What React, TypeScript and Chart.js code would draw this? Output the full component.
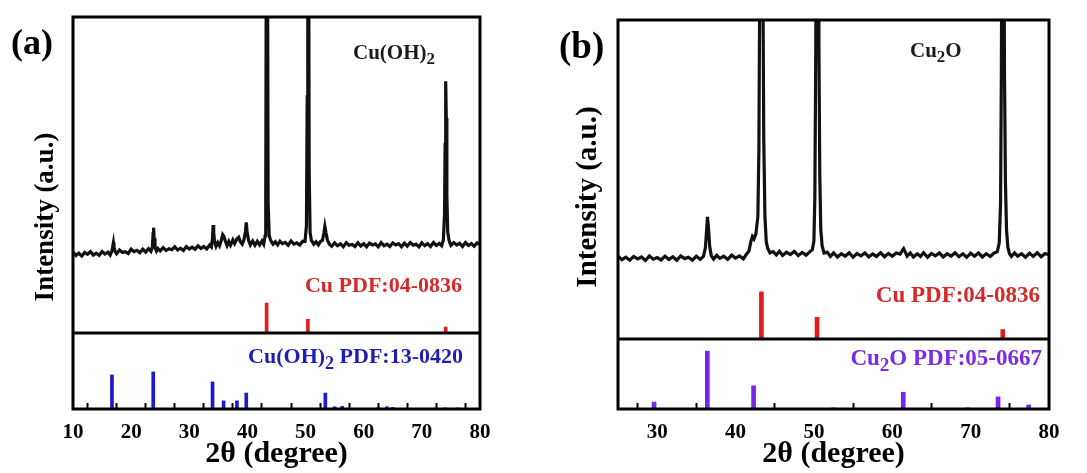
import React, { useEffect, useRef } from "react";
import { Chart, registerables } from "chart.js";

Chart.register(...registerables);

const FONT = '"Liberation Serif", "Times New Roman", serif';

// ---------- DATA ----------
// Panel (a): measured XRD pattern of the Cu(OH)2 sample  [2θ, intensity counts]
const xrdA: [number, number][] = [
  [10.0, 116], [10.5, 103], [11.0, 112], [11.5, 101], [12.0, 115], [12.5, 108], [13.0, 118], [13.5, 105],
  [14.0, 112], [14.5, 104], [15.0, 118], [15.5, 109], [16.0, 116], [16.4, 105], [16.7, 121], [16.85, 140],
  [16.95, 152], [17.05, 134], [17.25, 118], [17.5, 110], [18.0, 124], [18.5, 115], [19.0, 118], [19.5, 111],
  [20.0, 127], [20.5, 118], [21.0, 123], [21.5, 114], [22.0, 127], [22.5, 116], [23.0, 129], [23.4, 119],
  [23.65, 134], [23.78, 186], [23.86, 208], [23.95, 168], [24.1, 134], [24.35, 120], [24.6, 130], [25.0, 121],
  [25.5, 133], [26.0, 122], [26.5, 129], [27.0, 125], [27.5, 136], [28.0, 124], [28.5, 131], [29.0, 122],
  [29.5, 137], [30.0, 128], [30.5, 135], [31.0, 127], [31.5, 140], [32.0, 130], [32.5, 137], [33.0, 128],
  [33.5, 143], [33.8, 136], [34.0, 170], [34.1, 218], [34.2, 190], [34.35, 155], [34.6, 138], [34.9, 152],
  [35.2, 140], [35.5, 160], [35.75, 182], [35.95, 176], [36.2, 158], [36.5, 141], [36.8, 156], [37.1, 142],
  [37.5, 162], [37.8, 148], [38.2, 166], [38.5, 172], [38.8, 154], [39.1, 146], [39.4, 162], [39.65, 192],
  [39.8, 228], [39.95, 192], [40.2, 160], [40.5, 143], [40.9, 158], [41.3, 142], [41.7, 157], [42.1, 143],
  [42.5, 158], [42.8, 146], [43.05, 178], [43.15, 320], [43.25, 1300], [43.35, 1900], [43.45, 1300], [43.56, 300],
  [43.75, 178], [44.0, 160], [44.4, 146], [44.8, 155], [45.2, 143], [45.6, 157], [46.0, 148], [46.5, 153],
  [47.0, 142], [47.5, 158], [48.0, 146], [48.5, 151], [49.0, 143], [49.5, 157], [49.9, 156], [50.15, 215],
  [50.28, 700], [50.38, 1800], [50.5, 1600], [50.62, 420], [50.78, 190], [51.0, 160], [51.4, 146], [51.8, 155],
  [52.2, 143], [52.6, 157], [52.9, 160], [53.15, 188], [53.32, 213], [53.5, 190], [53.75, 162], [54.1, 146],
  [54.5, 138], [55.0, 151], [55.5, 140], [56.0, 147], [56.5, 136], [57.0, 152], [57.5, 142], [58.0, 145],
  [58.5, 137], [59.0, 151], [59.5, 139], [60.0, 148], [60.5, 136], [61.0, 150], [61.5, 143], [62.0, 147],
  [62.5, 136], [63.0, 152], [63.5, 140], [64.0, 146], [64.5, 137], [65.0, 151], [65.5, 143], [66.0, 148],
  [66.5, 136], [67.0, 150], [67.5, 139], [68.0, 152], [68.5, 142], [69.0, 146], [69.5, 136], [70.0, 151],
  [70.5, 140], [71.0, 148], [71.5, 137], [72.0, 152], [72.5, 141], [73.0, 149], [73.4, 140], [73.7, 162],
  [73.9, 260], [74.0, 520], [74.1, 758], [74.2, 620], [74.3, 330], [74.45, 190], [74.7, 158], [75.0, 141],
  [75.5, 152], [76.0, 143], [76.5, 149], [77.0, 137], [77.5, 152], [78.0, 141], [78.5, 148], [79.0, 138],
  [79.5, 151], [80.0, 144],
];

// Panel (b): measured XRD pattern of the Cu2O sample  [2θ, intensity counts]
const xrdB: [number, number][] = [
  [25.0, 122], [25.5, 109], [26.0, 118], [26.5, 107], [27.0, 121], [27.5, 112], [28.0, 119], [28.5, 106],
  [29.0, 123], [29.5, 111], [30.0, 117], [30.5, 108], [31.0, 122], [31.5, 110], [32.0, 120], [32.5, 107],
  [33.0, 123], [33.5, 113], [34.0, 118], [34.5, 107], [35.0, 122], [35.5, 110], [35.9, 121], [36.15, 152],
  [36.3, 215], [36.42, 268], [36.55, 225], [36.7, 158], [36.9, 124], [37.2, 111], [37.6, 125], [38.0, 114],
  [38.5, 122], [39.0, 110], [39.5, 126], [40.0, 115], [40.5, 123], [41.0, 112], [41.4, 130], [41.7, 140],
  [41.95, 175], [42.15, 195], [42.35, 186], [42.6, 205], [42.85, 270], [42.98, 520], [43.08, 1100], [43.18, 1900],
  [43.4, 1900], [43.5, 1100], [43.6, 560], [43.75, 270], [43.92, 175], [44.1, 152], [44.4, 134], [44.8, 139],
  [45.2, 127], [45.6, 140], [46.0, 125], [46.5, 137], [47.0, 128], [47.5, 140], [48.0, 124], [48.5, 136],
  [49.0, 126], [49.5, 139], [49.8, 146], [50.0, 178], [50.12, 340], [50.24, 900], [50.34, 1700], [50.54, 1700],
  [50.64, 900], [50.75, 420], [50.88, 220], [51.05, 160], [51.3, 134], [51.7, 137], [52.1, 121], [52.5, 134],
  [53.0, 119], [53.5, 131], [54.0, 122], [54.5, 135], [55.0, 118], [55.5, 132], [56.0, 123], [56.5, 134],
  [57.0, 119], [57.5, 130], [58.0, 121], [58.5, 135], [59.0, 120], [59.5, 132], [60.0, 122], [60.5, 134],
  [61.0, 130], [61.25, 142], [61.45, 150], [61.65, 138], [61.9, 122], [62.3, 134], [62.7, 119], [63.2, 131],
  [63.6, 121], [64.0, 135], [64.5, 118], [65.0, 132], [65.5, 123], [66.0, 134], [66.5, 119], [67.0, 131],
  [67.5, 122], [68.0, 135], [68.5, 120], [69.0, 131], [69.5, 118], [70.0, 133], [70.5, 122], [71.0, 134],
  [71.5, 119], [72.0, 131], [72.5, 121], [73.0, 134], [73.4, 138], [73.65, 172], [73.82, 320], [73.92, 800],
  [74.02, 1600], [74.22, 1600], [74.32, 800], [74.44, 400], [74.58, 220], [74.75, 155], [74.95, 132], [75.2, 121],
  [75.6, 134], [76.0, 122], [76.5, 131], [77.0, 118], [77.5, 133], [78.0, 121], [78.5, 135], [79.0, 120],
  [79.5, 132], [80.0, 127],
];

// Reference patterns (stick positions and relative intensities)
const cuPdfAngles = [43.3, 50.4, 74.1];
const cuPdfIntensity = [100, 46, 20];

const cuOH2PdfAngles = [16.7, 23.8, 34.0, 35.9, 38.2, 39.8, 53.4, 55.0, 56.3, 62.5, 64.0, 65.0, 72.5, 74.0, 76.2];
const cuOH2PdfIntensity = [92, 100, 73, 22, 22, 43, 43, 6, 7, 4, 6, 4, 2, 3, 3];

const cu2oPdfAngles = [29.6, 36.4, 42.3, 52.5, 61.4, 69.6, 73.5, 77.4];
const cu2oPdfIntensity = [12, 100, 40, 2, 29, 2, 21, 7];

// Axis labels
const xTitle = "2θ (degree)";
const yTitle = "Intensity (a.u.)";

// ---------- HELPERS ----------
type Part = { t: string; sub?: boolean };

function drawRich(
  ctx: CanvasRenderingContext2D,
  parts: Part[],
  x: number,
  y: number,
  size: number,
  color: string,
  align: "left" | "right"
) {
  const f = (s: number) => `bold ${s}px ${FONT}`;
  const widths: number[] = [];
  let total = 0;
  for (const p of parts) {
    ctx.font = f(p.sub ? Math.round(size * 0.82) : size);
    const w = ctx.measureText(p.t).width;
    widths.push(w);
    total += w;
  }
  let cx = align === "right" ? x - total : x;
  ctx.fillStyle = color;
  ctx.textAlign = "left";
  ctx.textBaseline = "alphabetic";
  parts.forEach((p, i) => {
    ctx.font = f(p.sub ? Math.round(size * 0.82) : size);
    ctx.fillText(p.t, cx, p.sub ? y + size * 0.25 : y);
    cx += widths[i];
  });
}

type TextItem = { parts: Part[]; x: number; y: number; size: number; color: string; align: "left" | "right" };

type PanelCfg = {
  left: number;
  width: number;
  padding: { left: number; right: number; top: number; bottom: number };
  xMin: number;
  xMax: number;
  xStep: number;
  xrd: [number, number][];
  cuMax: number;
  pdfAngles: number[];
  pdfIntensity: number[];
  pdfMax: number;
  pdfColor: string;
  barW: number;
  weights: [number, number, number];
  yTitlePos: { x: number; y: number; size: number };
  texts: TextItem[];
};

const RED = "#e01e1e";
const RED_TXT = "#d42a2a";

const panelA: PanelCfg = {
  left: 0,
  width: 545,
  padding: { left: 73, right: 65, top: 17, bottom: 4 },
  xMin: 10,
  xMax: 80,
  xStep: 5,
  xrd: xrdA,
  cuMax: 167,
  pdfAngles: cuOH2PdfAngles,
  pdfIntensity: cuOH2PdfIntensity,
  pdfMax: 205,
  pdfColor: "#1a1ad0",
  barW: 3,
  weights: [266, 50, 76],
  yTitlePos: { x: 46, y: 217, size: 27 },
  texts: [
    { parts: [{ t: "(a)" }], x: 11, y: 54, size: 36, color: "#000", align: "left" },
    { parts: [{ t: "Cu(OH)" }, { t: "2", sub: true }], x: 353, y: 59, size: 21, color: "#1a1a1a", align: "left" },
    { parts: [{ t: "Cu PDF:04-0836" }], x: 462, y: 292, size: 22, color: RED_TXT, align: "right" },
    {
      parts: [{ t: "Cu(OH)" }, { t: "2", sub: true }, { t: " PDF:13-0420" }],
      x: 463, y: 363, size: 22, color: "#1e1eb4", align: "right",
    },
  ],
};

const panelB: PanelCfg = {
  left: 545,
  width: 542,
  padding: { left: 73, right: 38, top: 20, bottom: 4 },
  xMin: 25,
  xMax: 80,
  xStep: 10,
  xrd: xrdB,
  cuMax: 106,
  pdfAngles: cu2oPdfAngles,
  pdfIntensity: cu2oPdfIntensity,
  pdfMax: 121,
  pdfColor: "#7a22ee",
  barW: 4,
  weights: [269, 50, 70],
  yTitlePos: { x: 44, y: 197, size: 29 },
  texts: [
    { parts: [{ t: "(b)" }], x: 14, y: 58, size: 37, color: "#000", align: "left" },
    { parts: [{ t: "Cu" }, { t: "2", sub: true }, { t: "O" }], x: 365, y: 57, size: 21, color: "#1a1a1a", align: "left" },
    { parts: [{ t: "Cu PDF:04-0836" }], x: 495, y: 302, size: 23, color: RED_TXT, align: "right" },
    {
      parts: [{ t: "Cu" }, { t: "2", sub: true }, { t: "O PDF:05-0667" }],
      x: 497, y: 365, size: 23, color: "#7b2ae6", align: "right",
    },
  ],
};

function Panel({ cfg }: { cfg: PanelCfg }) {
  const ref = useRef<HTMLCanvasElement>(null);

  useEffect(() => {
    const canvas = ref.current;
    if (!canvas) return;

    const decor = {
      id: "decor",
      afterDatasetsDraw(chart: any) {
        const { ctx, chartArea: a, scales } = chart;
        ctx.save();
        ctx.strokeStyle = "#000";
        ctx.lineWidth = 3;
        ctx.strokeRect(a.left, a.top, a.right - a.left, a.bottom - a.top);
        const ySep = scales.yP.top;
        ctx.beginPath();
        ctx.moveTo(a.left, ySep);
        ctx.lineTo(a.right, ySep);
        ctx.stroke();
        ctx.restore();

        ctx.save();
        for (const t of cfg.texts) drawRich(ctx, t.parts, t.x, t.y, t.size, t.color, t.align);
        ctx.restore();

        ctx.save();
        ctx.translate(cfg.yTitlePos.x, cfg.yTitlePos.y);
        ctx.rotate(-Math.PI / 2);
        ctx.font = `bold ${cfg.yTitlePos.size}px ${FONT}`;
        ctx.fillStyle = "#000";
        ctx.textAlign = "center";
        ctx.textBaseline = "middle";
        ctx.fillText(yTitle, 0, 0);
        ctx.restore();
      },
    };

    const chart = new Chart(canvas, {
      type: "line",
      data: {
        datasets: [
          {
            type: "line",
            label: "XRD",
            data: cfg.xrd.map(([x, y]) => ({ x, y })),
            xAxisID: "x",
            yAxisID: "yX",
            borderColor: "#111",
            borderWidth: 3.2,
            pointRadius: 0,
            tension: 0,
            fill: false,
          } as any,
          {
            type: "bar",
            label: "Cu PDF",
            data: cuPdfAngles.map((x, i) => ({ x, y: cuPdfIntensity[i] })),
            xAxisID: "x",
            yAxisID: "yC",
            backgroundColor: RED,
            barThickness: cfg.barW,
            grouped: false,
          } as any,
          {
            type: "bar",
            label: "PDF",
            data: cfg.pdfAngles.map((x, i) => ({ x, y: cfg.pdfIntensity[i] })),
            xAxisID: "x",
            yAxisID: "yP",
            backgroundColor: cfg.pdfColor,
            barThickness: cfg.barW,
            grouped: false,
          } as any,
        ],
      },
      options: {
        responsive: false,
        maintainAspectRatio: false,
        animation: false,
        devicePixelRatio: 1,
        layout: { padding: cfg.padding },
        plugins: { legend: { display: false }, tooltip: { enabled: false } },
        scales: {
          x: {
            type: "linear",
            position: "bottom",
            min: cfg.xMin,
            max: cfg.xMax,
            offset: false,
            ticks: {
              stepSize: cfg.xStep,
              autoSkip: false,
              maxRotation: 0,
              padding: 19,
              color: "#000",
              font: { family: FONT, size: 21, weight: "bold", lineHeight: 1 },
              callback: (v: any) => {
                const n = Number(v);
                const r = Math.round(n);
                return Math.abs(n - r) < 1e-6 && r % 10 === 0 ? String(r) : "";
              },
            },
            grid: {
              display: true,
              drawOnChartArea: false,
              drawTicks: true,
              tickLength: -6,
              tickWidth: 2,
              tickColor: "#000",
            },
            border: { display: false },
            title: {
              display: true,
              text: xTitle,
              color: "#000",
              font: { family: FONT, size: 30, weight: "bold", lineHeight: 1 },
              padding: { top: -23, bottom: 0 },
            },
          },
          yX: {
            type: "linear",
            display: false,
            min: 0,
            max: 1000,
            stack: "s",
            stackWeight: cfg.weights[0],
            weight: 3,
          },
          yC: {
            type: "linear",
            display: false,
            min: 0,
            max: cfg.cuMax,
            stack: "s",
            stackWeight: cfg.weights[1],
            weight: 2,
          },
          yP: {
            type: "linear",
            display: false,
            min: 0,
            max: cfg.pdfMax,
            stack: "s",
            stackWeight: cfg.weights[2],
            weight: 1,
          },
        } as any,
      },
      plugins: [decor],
    } as any);

    return () => chart.destroy();
  }, [cfg]);

  return (
    <canvas
      ref={ref}
      width={cfg.width}
      height={473}
      style={{ position: "absolute", left: cfg.left, top: 0, width: cfg.width, height: 473 }}
    />
  );
}

export default function App() {
  return (
    <div
      style={{
        position: "absolute",
        left: 0,
        top: 0,
        width: 1087,
        height: 473,
        background: "#fff",
        overflow: "hidden",
      }}
    >
      <Panel cfg={panelA} />
      <Panel cfg={panelB} />
    </div>
  );
}
